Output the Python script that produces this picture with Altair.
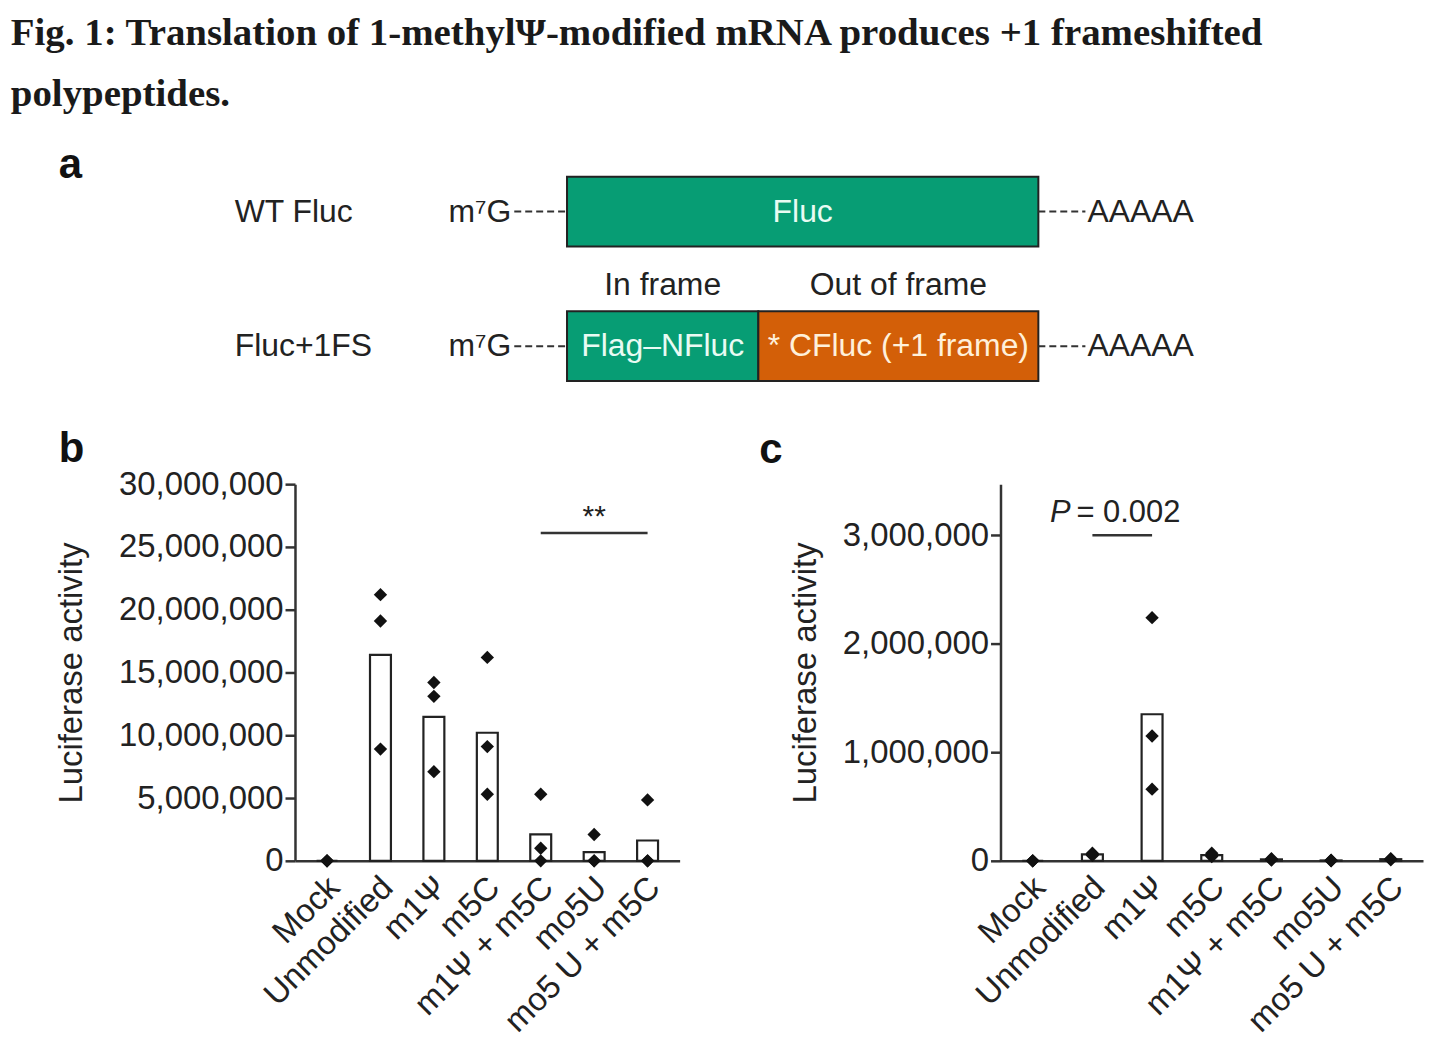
import altair as alt
import pandas as pd

FONT = "Liberation Sans"
INK = "#222222"
GREEN = "#079d74"
ORANGE = "#d35f08"

# ---------------- panel a : reporter constructs (nt coordinates) ----------------
construct_rows = ["WT Fluc", "Fluc+1FS"]
seg_row = ["WT Fluc", "Fluc+1FS", "Fluc+1FS"]
seg_start = [0, 0, 671]
seg_end = [1653, 671, 1653]
seg_label = ["Fluc", "Flag\u2013NFluc", "* CFluc (+1 frame)"]
seg_frame = ["In frame", "In frame", "Out of frame"]
utr5 = [-185, 0]
utr3 = [1653, 1818]
cap_text = "m\u2077G"
tail_text = "AAAAA"

# ---------------- panel b / c : luciferase activity ----------------
groups = ["Mock", "Unmodified", "m1\u03a8", "m5C", "m1\u03a8 + m5C", "mo5U", "mo5 U + m5C"]
b_rep1 = [0, 21_200_000, 14_200_000, 16_200_000, 5_300_000, 2_100_000, 4_850_000]
b_rep2 = [0, 19_100_000, 13_100_000, 9_100_000, 1_000_000, 0, 0]
b_rep3 = [0, 8_900_000, 7_100_000, 5_300_000, 0, 0, 0]
b_ticks = [0, 5_000_000, 10_000_000, 15_000_000, 20_000_000, 25_000_000, 30_000_000]

c_rep1 = [0, 70_000, 2_240_000, 70_000, 20_000, 6_000, 20_000]
c_rep2 = [0, 60_000, 1_150_000, 50_000, 12_000, 3_000, 15_000]
c_rep3 = [0, 50_000, 660_000, 40_000, 8_000, 1_000, 10_000]
c_ticks = [0, 1_000_000, 2_000_000, 3_000_000]

b_sig = {"from": "m1\u03a8 + m5C", "to": "mo5 U + m5C", "mid": "mo5U", "level": 26_100_000,
         "label_level": 27_400_000, "label": "**"}
c_sig = {"from": "Unmodified", "to": "m1\u03a8", "level": 3_000_000, "label_level": 3_200_000,
         "p": "P", "value": "= 0.002"}

# ================= panel a =================
seg_df = pd.DataFrame({"row": seg_row, "start": seg_start, "end": seg_end,
                       "label": seg_label, "frame": seg_frame})
seg_df["mid"] = (seg_df["start"] + seg_df["end"]) / 2
lead_df = pd.DataFrame({"row": construct_rows * 2,
                        "x1": [utr5[0]] * 2 + [utr3[0]] * 2,
                        "x2": [utr5[1]] * 2 + [utr3[1]] * 2})
cap_df = pd.DataFrame({"row": construct_rows, "pos": [utr5[0]] * 2, "txt": [cap_text] * 2})
tail_df = pd.DataFrame({"row": construct_rows, "pos": [utr3[1]] * 2, "txt": [tail_text] * 2})

xs_a = alt.Scale(domain=[-954, 2988], nice=False, zero=False)
y_a = alt.Y("row:N", sort=construct_rows,
            scale=alt.Scale(paddingInner=0.48, paddingOuter=0.24),
            axis=alt.Axis(title=None, domain=False, ticks=False, labelAlign="left",
                          labelPadding=61, labelFontSize=32, labelFont=FONT,
                          labelColor=INK, labelBaseline="middle"))

boxes = alt.Chart(seg_df).mark_bar(stroke=INK, strokeWidth=2).encode(
    x=alt.X("start:Q", scale=xs_a, axis=None), x2="end:Q", y=y_a,
    color=alt.Color("frame:N", scale=alt.Scale(domain=["In frame", "Out of frame"],
                                               range=[GREEN, ORANGE]), legend=None))
box_text = alt.Chart(seg_df).mark_text(font=FONT, fontSize=32, baseline="middle").encode(
    x=alt.X("mid:Q", scale=xs_a, axis=None), y=y_a, text="label:N",
    color=alt.condition(alt.datum.frame == "In frame", alt.value("#e9fbf3"), alt.value("#fff0da")))
frame_text = alt.Chart(seg_df).transform_filter(alt.datum.row == "Fluc+1FS").mark_text(
    font=FONT, fontSize=32, baseline="middle", color=INK, dy=-61).encode(
    x=alt.X("mid:Q", scale=xs_a, axis=None), y=y_a, text="frame:N")
leaders = alt.Chart(lead_df).mark_rule(color="#333333", strokeWidth=2, strokeDash=[7, 4]).encode(
    x=alt.X("x1:Q", scale=xs_a, axis=None), x2="x2:Q", y=y_a)
caps = alt.Chart(cap_df).mark_text(font=FONT, fontSize=32, align="right", baseline="middle",
                                   dx=-3, color=INK).encode(
    x=alt.X("pos:Q", scale=xs_a, axis=None), y=y_a, text="txt:N")
tails = alt.Chart(tail_df).mark_text(font=FONT, fontSize=32, align="left", baseline="middle",
                                     dx=2, color=INK).encode(
    x=alt.X("pos:Q", scale=xs_a, axis=None), y=y_a, text="txt:N")

letter_kw = dict(anchor="start", frame="group", font=FONT, fontSize=42, fontWeight="bold",
                 color="#111111")
panel_a = alt.layer(boxes, leaders, box_text, frame_text, caps, tails).properties(
    width=1128, height=270, title=alt.TitleParams("a", dx=-237, dy=47, **letter_kw))


# ================= panels b, c =================
def bar_panel(reps, ticks, ymax, pad_outer, title_pad):
    df = pd.DataFrame({"group": groups * 3, "value": reps[0] + reps[1] + reps[2]})
    xscale = alt.Scale(domain=groups, paddingInner=0, paddingOuter=pad_outer)
    xaxis = alt.Axis(title=None, labelAngle=-45, labelAlign="right", labelBaseline="top",
                     ticks=False, labelPadding=10, labelOffset=-4, labelFontSize=33,
                     labelLimit=0, labelFont=FONT, labelColor=INK,
                     domainColor="#333333", domainWidth=2.5)
    yscale = alt.Scale(domain=[0, ymax], nice=False)
    yaxis = alt.Axis(values=ticks, format=",d", title="Luciferase activity", titleFont=FONT,
                     titleFontSize=33, titleFontWeight="normal", titleColor=INK,
                     titlePadding=title_pad, labelFont=FONT, labelFontSize=33, labelColor=INK,
                     labelPadding=2, tickSize=10, tickWidth=2.5, tickColor="#333333",
                     domainColor="#333333", domainWidth=2.5, grid=False)
    bars = alt.Chart(df).mark_bar(size=21, fill="white", stroke=INK, strokeWidth=2.2).encode(
        x=alt.X("group:N", sort=groups, scale=xscale, axis=xaxis),
        y=alt.Y("mean(value):Q", scale=yscale, axis=yaxis))
    pts = alt.Chart(df).mark_point(shape="diamond", filled=True, size=180, color="#111111",
                                   opacity=1).encode(
        x=alt.X("group:N", sort=groups, scale=xscale),
        y=alt.Y("value:Q", scale=yscale))
    return [bars, pts], xscale, yscale


b_layers, bsc, ysb = bar_panel([b_rep1, b_rep2, b_rep3], b_ticks, 30_000_000, 0.1, 30)
bsig_line = alt.Chart(pd.DataFrame({"a": [b_sig["from"]], "b": [b_sig["to"]],
                                    "y": [b_sig["level"]]})).mark_rule(
    color="#333333", strokeWidth=2.5).encode(
    x=alt.X("a:N", sort=groups, scale=bsc), x2="b:N", y=alt.Y("y:Q", scale=ysb))
bsig_text = alt.Chart(pd.DataFrame({"g": [b_sig["mid"]], "y": [b_sig["label_level"]],
                                    "t": [b_sig["label"]]})).mark_text(
    font=FONT, fontSize=30, color=INK, baseline="middle").encode(
    x=alt.X("g:N", sort=groups, scale=bsc), y=alt.Y("y:Q", scale=ysb), text="t:N")
panel_b = alt.layer(*b_layers, bsig_line, bsig_text).properties(
    width=386, height=378, title=alt.TitleParams("b", dx=-237, dy=7, **letter_kw))

c_layers, csc, ysc = bar_panel([c_rep1, c_rep2, c_rep3], c_ticks, 3_470_000, 0.04, 20)
csig_line = alt.Chart(pd.DataFrame({"a": [c_sig["from"]], "b": [c_sig["to"]],
                                    "y": [c_sig["level"]]})).mark_rule(
    color="#333333", strokeWidth=2.5).encode(
    x=alt.X("a:N", sort=groups, scale=csc), x2="b:N", y=alt.Y("y:Q", scale=ysc))
csig_p = alt.Chart(pd.DataFrame({"g": [c_sig["from"]], "y": [c_sig["label_level"]],
                                 "t": [c_sig["p"]]})).mark_text(
    font=FONT, fontSize=31, fontStyle="italic", color=INK, baseline="middle", align="right",
    dx=-22).encode(x=alt.X("g:N", sort=groups, scale=csc), y=alt.Y("y:Q", scale=ysc), text="t:N")
csig_v = alt.Chart(pd.DataFrame({"g": [c_sig["from"]], "y": [c_sig["label_level"]],
                                 "t": [c_sig["value"]]})).mark_text(
    font=FONT, fontSize=31, color=INK, baseline="middle", align="left", dx=-16).encode(
    x=alt.X("g:N", sort=groups, scale=csc), y=alt.Y("y:Q", scale=ysc), text="t:N")
panel_c = alt.layer(*c_layers, csig_line, csig_p, csig_v).properties(
    width=424, height=378, title=alt.TitleParams("c", dx=-242, dy=-8, **letter_kw))

title_lines = ["Fig. 1: Translation of 1-methyl\u03a8-modified mRNA produces +1 frameshifted",
               "polypeptides."]

chart = alt.vconcat(
    panel_a,
    alt.hconcat(panel_b, panel_c, spacing=322, bounds="flush"),
    spacing=71, bounds="flush",
).properties(
    title=alt.TitleParams(title_lines, anchor="start", frame="bounds", font="Liberation Serif",
                          fontSize=39, fontWeight="bold", color="#1a1a1a", lineHeight=62,
                          dx=-45, offset=30),
    padding={"left": 2, "top": 4, "right": 2, "bottom": 4},
).configure_view(stroke=None)

chart.save("out.html", embed_options={"renderer": "svg", "actions": False})
